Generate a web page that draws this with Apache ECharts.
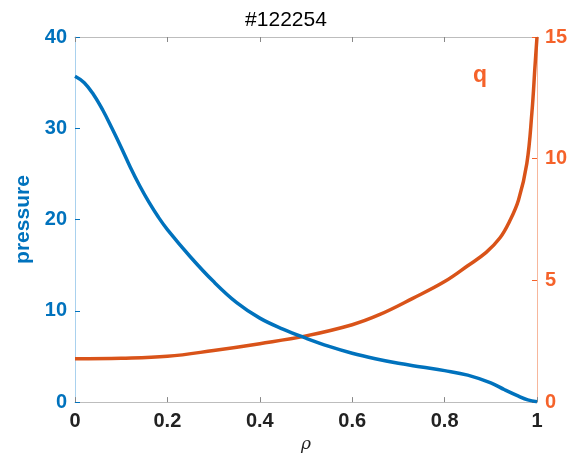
<!DOCTYPE html>
<html>
<head>
<meta charset="utf-8">
<script src="https://cdn.jsdelivr.net/npm/echarts@6/dist/echarts.min.js"></script>
<style>
html,body{margin:0;padding:0;background:#fff;}
#chart{width:572px;height:458px;}
</style>
</head>
<body>
<div id="chart"></div>
<script>
// pressure profile
var rhoP = [0, 0.02, 0.04, 0.06, 0.08, 0.1, 0.12, 0.14, 0.16, 0.18, 0.2, 0.25, 0.3, 0.35, 0.4, 0.45, 0.5,
            0.55, 0.6, 0.65, 0.7, 0.75, 0.8, 0.85, 0.9, 0.93, 0.96, 0.98, 1.0];
var pressure = [35.7, 35.0, 33.7, 32.0, 30.0, 27.9, 25.7, 23.7, 21.9, 20.3, 18.9, 15.9, 13.2, 10.9, 9.2, 8.0, 7.0,
                6.1, 5.35, 4.75, 4.25, 3.85, 3.45, 2.95, 2.1, 1.35, 0.65, 0.25, 0.05];
// safety factor
var rhoQ = [0, 0.1, 0.2, 0.3, 0.4, 0.5, 0.6, 0.66, 0.73, 0.8, 0.85, 0.89, 0.92, 0.94, 0.96, 0.978,
            0.989, 0.996, 1.0];
var q = [1.78, 1.8, 1.88, 2.12, 2.4, 2.72, 3.18, 3.6, 4.25, 4.95, 5.6, 6.15, 6.75, 7.4, 8.3, 9.8,
         11.9, 13.9, 15.0];

var blue = '#0072BD', orange = '#D95319', orangeLbl = '#F5622A';

function pairs(x, y){
    var out = [];
    for (var i = 0; i < x.length; i++) out.push([x[i], y[i]]);
    return out;
}

var chart = echarts.init(document.getElementById('chart'));
var option = {
    animation: false,
    title: {
        text: '#122254',
        left: 'center',
        top: 5,
        textStyle: {fontFamily: 'Liberation Sans', fontWeight: 'normal', fontSize: 21, color: '#000'}
    },
    grid: {left: 75, right: 35, top: 37, bottom: 53},
    xAxis: [{
        type: 'value', min: 0, max: 1, interval: 0.2,
        name: 'ρ', nameLocation: 'middle', nameGap: 28,
        nameTextStyle: {fontFamily: 'DejaVu Serif', fontStyle: 'italic', fontSize: 17, color: '#222'},
        axisLine: {onZero: false, lineStyle: {color: '#bdbdbd', width: 1}},
        axisTick: {inside: true, length: 5, lineStyle: {color: '#888'}},
        splitLine: {show: false},
        axisLabel: {fontFamily: 'Liberation Sans', fontWeight: 'bold', fontSize: 20, color: '#222', margin: 9,
            formatter: function(v){ return String(+v.toFixed(1)); }}
    }, {
        type: 'value', min: 0, max: 1, interval: 0.2, position: 'top',
        axisLine: {show: true, onZero: false, lineStyle: {color: '#bdbdbd', width: 1}},
        axisTick: {inside: true, length: 5, lineStyle: {color: '#888'}},
        axisLabel: {show: false},
        splitLine: {show: false}
    }],
    yAxis: [{
        type: 'value', min: 0, max: 40, interval: 10, position: 'left',
        name: 'pressure', nameLocation: 'middle', nameGap: 40, nameRotate: 90,
        nameTextStyle: {fontFamily: 'Liberation Sans', fontWeight: 'bold', fontSize: 21, color: blue},
        axisLine: {show: true, onZero: false, lineStyle: {color: '#a9d1ee', width: 1}},
        axisTick: {show: true, inside: true, length: 5, lineStyle: {color: blue}},
        splitLine: {show: false},
        axisLabel: {fontFamily: 'Liberation Sans', fontWeight: 'bold', fontSize: 20, color: blue, margin: 8}
    }, {
        type: 'value', min: 0, max: 15, interval: 5, position: 'right',
        axisLine: {show: true, onZero: false, lineStyle: {color: '#f7b79c', width: 1}},
        axisTick: {show: true, inside: true, length: 5, lineStyle: {color: orangeLbl}},
        splitLine: {show: false},
        axisLabel: {fontFamily: 'Liberation Sans', fontWeight: 'bold', fontSize: 20, color: orangeLbl, margin: 8}
    }],
    graphic: [{
        type: 'text', left: 473, top: 64,
        style: {text: 'q', fill: orangeLbl, font: 'bold 23px "Liberation Sans"'}
    }],
    series: [{
        name: 'pressure', type: 'line', xAxisIndex: 0, yAxisIndex: 0,
        data: pairs(rhoP, pressure), smooth: 0.4, showSymbol: false,
        lineStyle: {color: blue, width: 3.5}, z: 3
    }, {
        name: 'q', type: 'line', xAxisIndex: 0, yAxisIndex: 1,
        data: pairs(rhoQ, q), smooth: 0.4, showSymbol: false,
        lineStyle: {color: orange, width: 3.5}, z: 2
    }]
};
chart.setOption(option);
</script>
</body>
</html>
